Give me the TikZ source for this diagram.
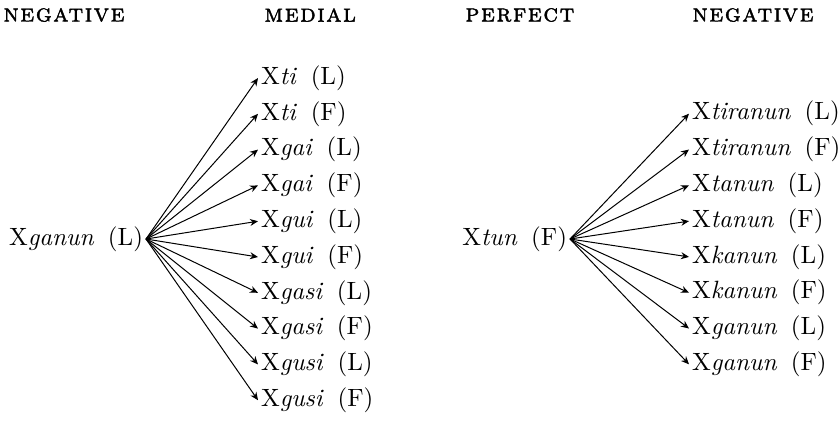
\documentclass[tikz,border=0pt]{standalone}
\usepackage{fontspec}
\usepackage{amsmath}
\newfontfamily\headfont{lmromancaps10-regular}[Extension=.otf, LetterSpace=6, FakeBold=1.5]
\usetikzlibrary{arrows.meta, positioning}
\newcommand{\vform}[2]{X\textit{#1}\hspace{0.55em}(#2)}

\begin{document}
\begin{tikzpicture}[x=0.4pt, y=-0.4pt, >={Stealth[length=3.2pt, width=2.8pt]},
   head/.style={anchor=west, inner sep=0pt, font=\headfont},
   vf/.style={inner sep=1pt, text height=7pt, text depth=2pt}]
   \useasboundingbox (0,0) rectangle (839,429);
   \node[head] (neg1) at (3,15) {negative};
   \node[head] (med) at (264,15) {medial};
   \node[head] (perf) at (465,15) {perfect};
   \node[head] (neg2) at (692,15) {negative};
   % negative -> medial
   \node[vf, anchor=east] (ganun) at (146,239) {\vform{ganun}{L}};
   \foreach \w/\c [count=\i from 0] in {ti/L, ti/F, gai/L, gai/F, gui/L, gui/F, gasi/L, gasi/F, gusi/L, gusi/F} {
      \node[vf, anchor=west] (m\i) at (258,{78+35.8*\i}) {\vform{\w}{\c}};
      \draw[->] (ganun.east) -- (m\i.west);
   }
   % perfect -> negative
   \node[vf, anchor=east] (tun) at (570,239) {\vform{tun}{F}};
   \foreach \w/\c [count=\i from 0] in {tiranun/L, tiranun/F, tanun/L, tanun/F, kanun/L, kanun/F, ganun/L, ganun/F} {
      \node[vf, anchor=west] (n\i) at (689,{113.7+35.8*\i}) {\vform{\w}{\c}};
      \draw[->] (tun.east) -- (n\i.west);
   }
\end{tikzpicture}
\end{document}
